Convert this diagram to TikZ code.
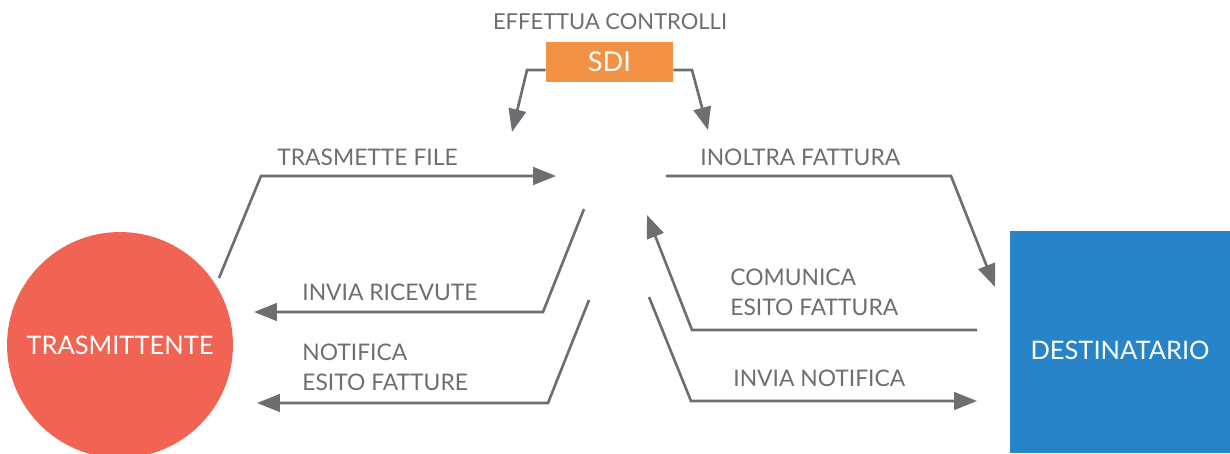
\documentclass[tikz,border=0pt]{standalone}
\usepackage{fontspec}
\setmainfont{Lato}
\usepackage{tikz}
\usetikzlibrary{arrows.meta}
\definecolor{flowgray}{HTML}{6D6E71}
\definecolor{trasred}{HTML}{F16453}
\definecolor{destblue}{HTML}{2884C8}
\definecolor{sdiorange}{HTML}{F39244}

\begin{document}
\begin{tikzpicture}[x=0.02cm, y=0.02cm,
  flow/.style={draw=flowgray, line width=1.5pt, -{Triangle[length=13pt,width=10pt]}},
  lab/.style={text=flowgray, font=\fontsize{13}{17}\selectfont, anchor=west, align=left},
  actor/.style={text=white, font=\fontsize{14.5}{17}\selectfont}]
\tikzstyle{every node}+=[inner sep=0pt]
\useasboundingbox (0,0) rectangle (1230,-453);
\node [actor, circle, fill=trasred, minimum size=4.52cm] (trasm) at (120,-345) {TRASMITTENTE};
\node [fill=destblue, minimum width=4.4cm, minimum height=4.44cm] (dest) at (1120,-342) {};
\node [actor] (desttxt) at (1120,-350) {DESTINATARIO};
\node [actor, fill=sdiorange, minimum width=2.54cm, minimum height=0.8cm, font=\fontsize{15.5}{17}\selectfont] (sdi) at (609.5,-62) {SDI};
\node [lab, anchor=center, font=\fontsize{12.5}{17}\selectfont] (controlli) at (610,-22) {EFFETTUA CONTROLLI};
\coordinate (sdiL) at (512,-132);
\coordinate (sdiR) at (708,-130);
\draw [flow] ([yshift=-0.16cm]sdi.west) -- (527,-70) -- (sdiL);
\draw [flow] ([yshift=-0.16cm]sdi.east) -- (692,-70) -- (sdiR);
\coordinate (tfS) at (219,-278);
\coordinate (tfE) at (556,-176);
\draw [flow] (tfS) -- (261,-176) -- (tfE);
\node [lab] (tflab) at (277,-157) {TRASMETTE FILE};
\coordinate (irS) at (584,-209);
\coordinate (irE) at (254,-312);
\draw [flow] (irS) -- (543,-312) -- (irE);
\node [lab] (irlab) at (302,-292) {INVIA RICEVUTE};
\coordinate (neS) at (589,-300);
\coordinate (neE) at (257,-403);
\draw [flow] (neS) -- (548,-403) -- (neE);
\node [lab] (nelab) at (302,-367) {NOTIFICA\\ESITO FATTURE};
\coordinate (ifS) at (666,-176);
\coordinate (ifE) at (995,-287);
\draw [flow] (ifS) -- (951,-176) -- (ifE);
\node [lab] (iflab) at (700,-157) {INOLTRA FATTURA};
\coordinate (ceS) at (977,-330);
\coordinate (ceE) at (647,-215);
\draw [flow] (ceS) -- (692,-330) -- (ceE);
\node [lab] (celab) at (730,-292.5) {COMUNICA\\ESITO FATTURA};
\coordinate (inS) at (649,-297);
\coordinate (inE) at (977,-401);
\draw [flow] (inS) -- (691,-401) -- (inE);
\node [lab] (inlab) at (733,-378) {INVIA NOTIFICA};
\end{tikzpicture}
\end{document}
